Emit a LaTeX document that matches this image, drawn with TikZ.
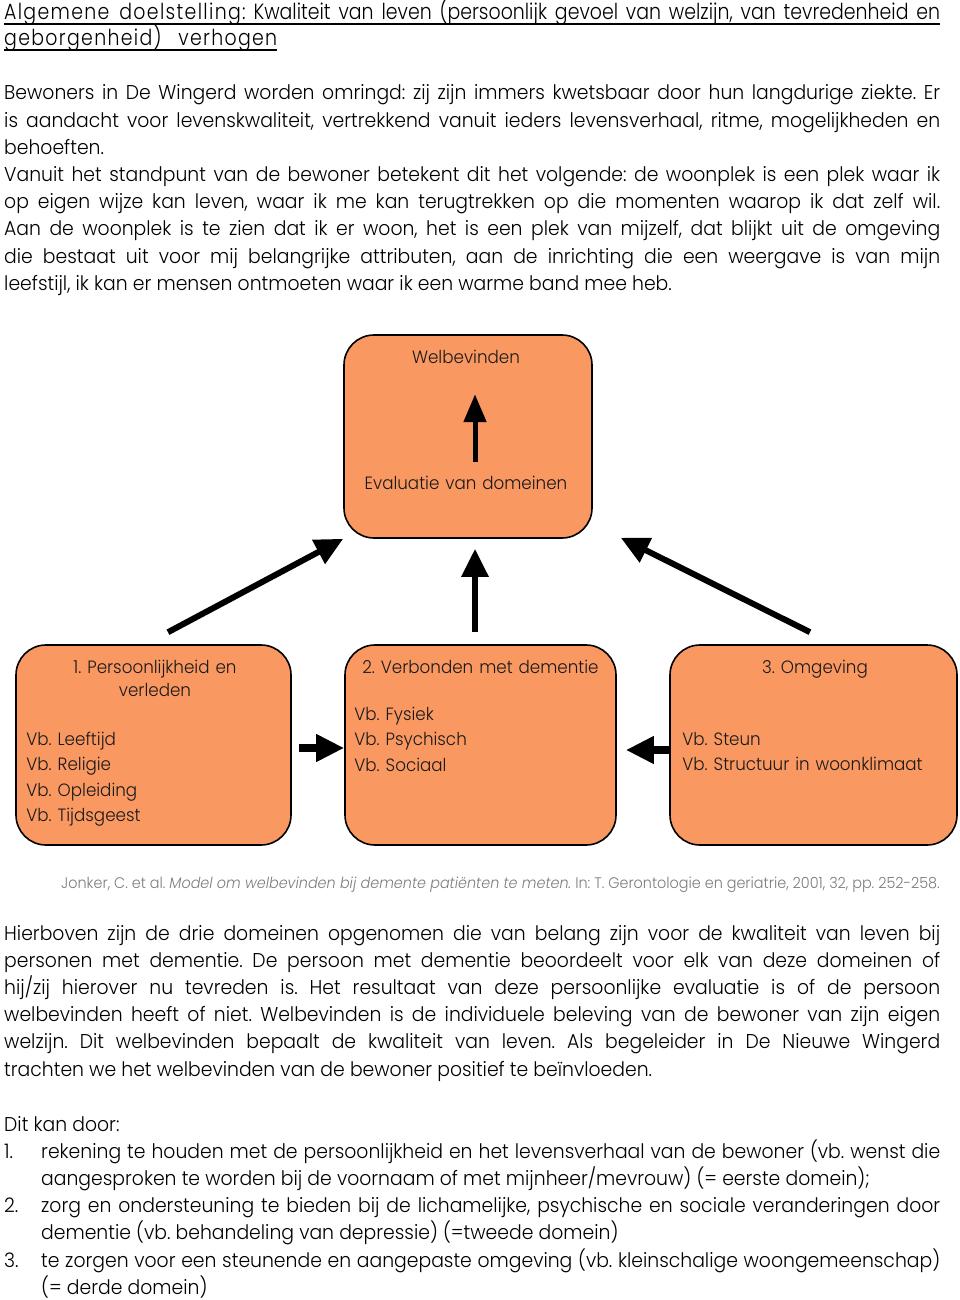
\documentclass[tikz,border=0pt]{standalone}
\usepackage{fontspec}
\setmainfont[FakeStretch=0.94,UprightFont=* Light,ItalicFont=* Light Italic]{Poppins}
\newfontfamily\titlefont[FakeStretch=0.86,UprightFont=* Light]{Poppins}
\newfontfamily\titlespaced[FakeStretch=0.86,LetterSpace=6,UprightFont=* Light]{Poppins}
\usetikzlibrary{arrows.meta}
\definecolor{domfill}{RGB}{250,152,98}
\definecolor{citegray}{RGB}{125,125,125}
\hyphenpenalty=10000
\tolerance=9999
\frenchspacing

\begin{document}
\begin{tikzpicture}[x=1pt,y=-1pt,
  every node/.style={inner sep=0pt},
  bodytext/.style={anchor=base west,text width=936pt,align=justify,
    font=\fontsize{20}{27.2}\selectfont},
  domainbox/.style={draw=black,line width=1.6pt,fill=domfill,rounded corners=30pt},
  boxtext/.style={anchor=base west,text width=262pt,align=left,text=black!90,
    font=\fontsize{17.8}{25.4}\selectfont},
  boxtitle/.style={anchor=base,text width=240pt,align=center,text=black!90,
    font=\fontsize{17.8}{23}\selectfont},
  bigarrow/.style={line width=6pt,-{Triangle[length=28pt,width=26pt]}},
  sidearrow/.style={line width=8pt,-{Triangle[length=28pt,width=26pt]}},
  uline/.style={line width=1.5pt}]

\fill[white] (0,0) rectangle (960,1300);
\useasboundingbox (0,0) rectangle (960,1300);

% title
\node[anchor=base west,font=\titlefont\fontsize{22}{26}\selectfont] (title1) at (4,20)
  {\makebox[936pt][s]{{\titlespaced Algemene doelstelling:} Kwaliteit van leven (persoonlijk gevoel van welzijn, van tevredenheid en}};
\node[anchor=base west,font=\titlespaced\fontsize{22}{26}\selectfont] (title2) at (4,46)
  {\makebox[273pt][s]{geborgenheid) verhogen}};
\draw[uline] ([shift={(0,4)}]title1.base west) -- ([shift={(0,4)}]title1.base east);
\draw[uline] ([shift={(0,4)}]title2.base west) -- ([shift={(0,4)}]title2.base east);

% intro text
\node[bodytext] (intro) at (4,100) {Bewoners in De Wingerd worden omringd: zij zijn immers kwetsbaar door hun langdurige ziekte. Er\linebreak
is aandacht voor levenskwaliteit, vertrekkend vanuit ieders levensverhaal, ritme, mogelijkheden en\linebreak
behoeften.\par
Vanuit het standpunt van de bewoner betekent dit het volgende: de woonplek is een plek waar ik\linebreak
op eigen wijze kan leven, waar ik me kan terugtrekken op die momenten waarop ik dat zelf wil.\linebreak
Aan de woonplek is te zien dat ik er woon, het is een plek van mijzelf, dat blijkt uit de omgeving\linebreak
die bestaat uit voor mij belangrijke attributen, aan de inrichting die een weergave is van mijn\linebreak
leefstijl, ik kan er mensen ontmoeten waar ik een warme band mee heb.};

% boxes
\node[domainbox,minimum width=248pt,minimum height=203pt] (wb) at (468,436.5) {};
\node[domainbox,minimum width=275pt,minimum height=200pt] (dom1) at (153.5,745) {};
\node[domainbox,minimum width=271pt,minimum height=200pt] (dom2) at (480.5,745) {};
\node[domainbox,minimum width=287pt,minimum height=200pt] (dom3) at (813.5,745) {};

% top box
\node[boxtitle] (wbl) at ([shift={(-2,29)}]wb.north) {Welbevinden};
\node[boxtitle] (eval) at ([shift={(-2,155)}]wb.north) {Evaluatie van domeinen};
\draw[line width=5pt,-{Triangle[length=28pt,width=22pt]}] ([shift={(9,-27)}]eval.base) -- ([shift={(9,31)}]wbl.base);

% domains
\node[boxtitle] (dom1t) at ([shift={(1.5,29)}]dom1.north) {1. Persoonlijkheid en\\verleden};
\node[boxtext] (dom1l) at ([shift={(11,101)}]dom1.north west) {Vb. Leeftijd\\Vb. Religie\\Vb. Opleiding\\Vb. Tijdsgeest};
\node[boxtitle] (dom2t) at ([shift={(0,29)}]dom2.north) {2. Verbonden met dementie};
\node[boxtext] (dom2l) at ([shift={(10,76)}]dom2.north west) {Vb. Fysiek\\Vb. Psychisch\\Vb. Sociaal};
\node[boxtitle] (dom3t) at ([shift={(1.5,29)}]dom3.north) {3. Omgeving};
\node[boxtext] (dom3l) at ([shift={(13,101)}]dom3.north west) {Vb. Steun\\Vb. Structuur in woonklimaat};

% arrows
\draw[bigarrow] ([shift={(14.5,-12)}]dom1.north) -- (wb.south west);
\draw[bigarrow] ([shift={(-5.5,-12)}]dom2.north) -- ([shift={(7,10)}]wb.south);
\draw[bigarrow] ([shift={(-3.5,-12)}]dom3.north) -- ([shift={(28,-1)}]wb.south east);
\draw[sidearrow] ([shift={(7,3)}]dom1.east) -- ([shift={(0,3)}]dom2.west);
\draw[sidearrow] ([shift={(0,5)}]dom3.west) -- ([shift={(9,5)}]dom2.east);

% source
\node[anchor=base east,text=citegray,font=\fontsize{15.3}{18}\selectfont] (cite) at (940,888)
  {Jonker, C. et al. \textit{Model om welbevinden bij demente patiënten te meten.} In: T. Gerontologie en geriatrie, 2001, 32, pp. 252-258.};

% explanation
\node[bodytext] (expl) at (4,940) {Hierboven zijn de drie domeinen opgenomen die van belang zijn voor de kwaliteit van leven bij\linebreak
personen met dementie. De persoon met dementie beoordeelt voor elk van deze domeinen of\linebreak
hij/zij hierover nu tevreden is. Het resultaat van deze persoonlijke evaluatie is of de persoon\linebreak
welbevinden heeft of niet. Welbevinden is de individuele beleving van de bewoner van zijn eigen\linebreak
welzijn. Dit welbevinden bepaalt de kwaliteit van leven. Als begeleider in De Nieuwe Wingerd\linebreak
trachten we het welbevinden van de bewoner positief te beïnvloeden.};

% list
\node[bodytext] (ways) at (4,1131) {Dit kan door:\par
\hangindent=37pt\hangafter=1\makebox[37pt][l]{1.}rekening te houden met de persoonlijkheid en het levensverhaal van de bewoner (vb. wenst die\linebreak
aangesproken te worden bij de voornaam of met mijnheer/mevrouw) (= eerste domein);\par
\hangindent=37pt\hangafter=1\makebox[37pt][l]{2.}zorg en ondersteuning te bieden bij de lichamelijke, psychische en sociale veranderingen door\linebreak
dementie (vb. behandeling van depressie) (=tweede domein)\par
\hangindent=37pt\hangafter=1\makebox[37pt][l]{3.}te zorgen voor een steunende en aangepaste omgeving (vb. kleinschalige woongemeenschap)\linebreak
(= derde domein)\par};

\end{tikzpicture}
\end{document}
